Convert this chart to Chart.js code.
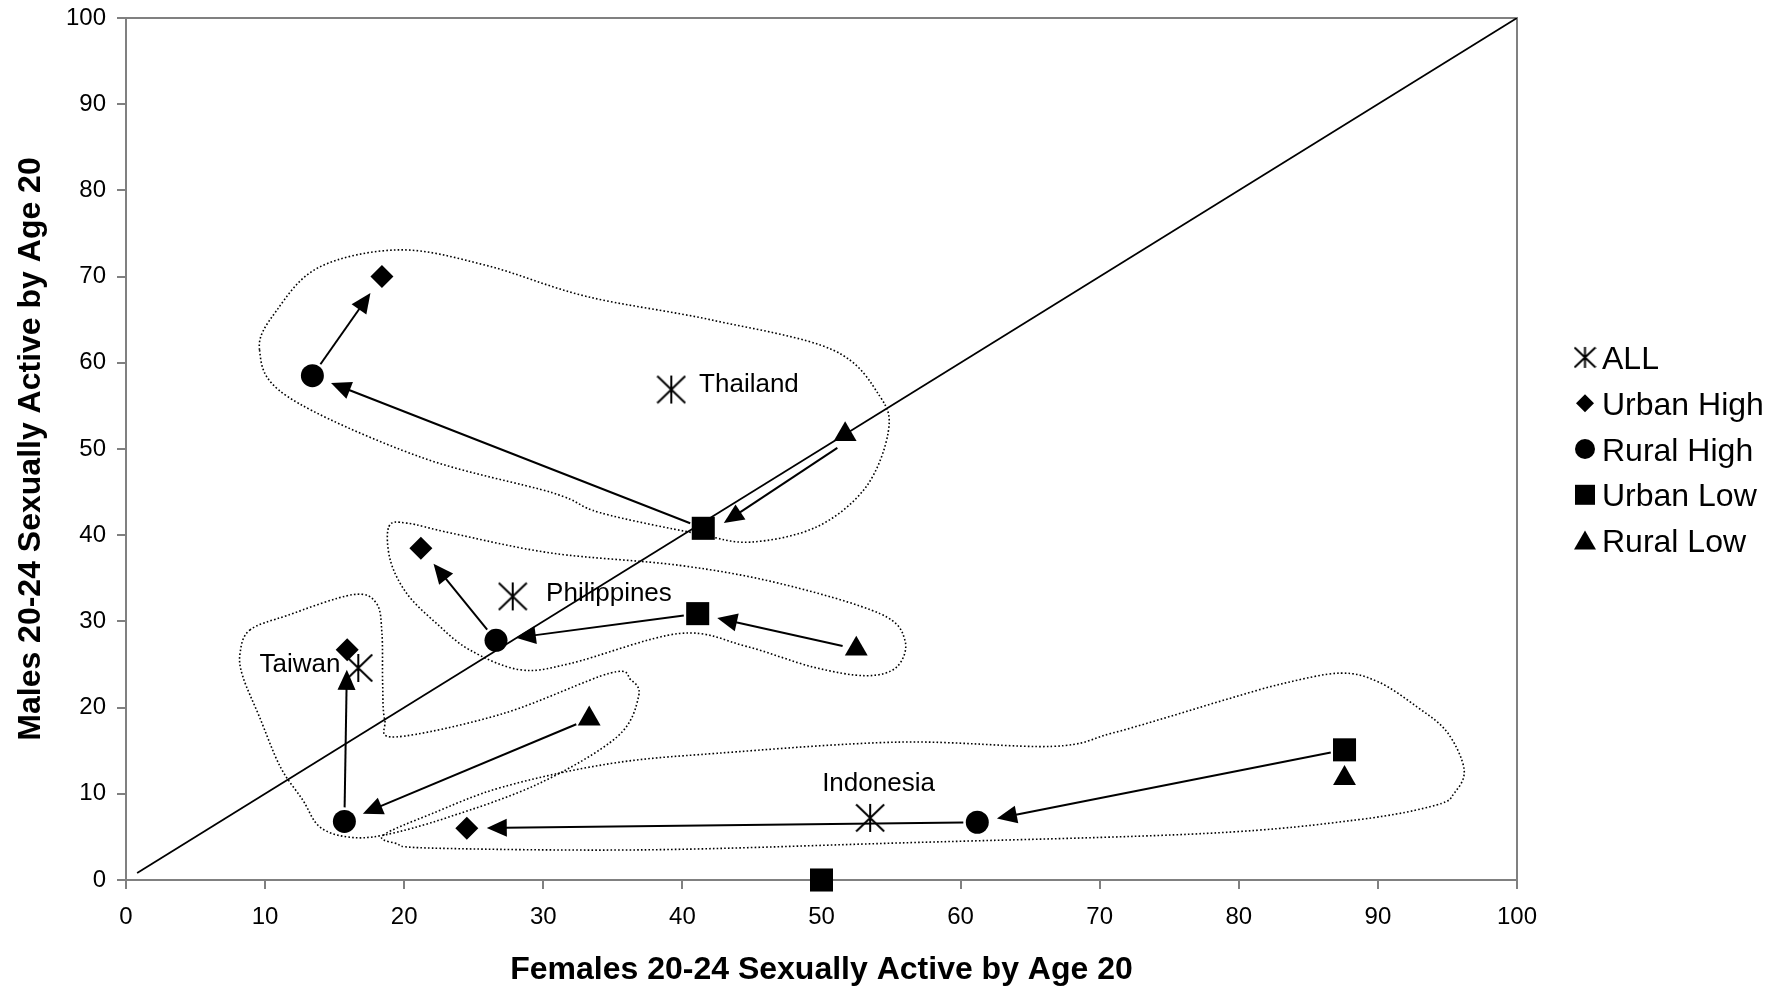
<!DOCTYPE html>
<html>
<head>
<meta charset="utf-8">
<title>Sexually active by age 20</title>
<script src="https://cdn.jsdelivr.net/npm/chart.js@4.4.1/dist/chart.umd.min.js"></script>
<style>
  html, body { margin: 0; padding: 0; background: #fff; }
  canvas { display: block; }
</style>
</head>
<body>
<canvas id="chart" width="1784" height="986"></canvas>
<script>
const countries = ['Thailand', 'Philippines', 'Taiwan', 'Indonesia'];

// one value per country, same order as above
const allX = [39.2, 27.8, 16.7, 53.5];
const allY = [56.9, 32.9, 24.6, 7.2];
const urbanHighX = [18.4, 21.2, 15.9, 24.5];
const urbanHighY = [70.0, 38.5, 26.7, 6.0];
const ruralHighX = [13.4, 26.6, 15.7, 61.2];
const ruralHighY = [58.5, 27.8, 6.8, 6.7];
const urbanLowX = [41.5, 41.1, 50.0, 87.6];
const urbanLowY = [40.8, 30.9, 0.0, 15.1];
const ruralLowX = [51.7, 52.5, 33.3, 87.6];
const ruralLowY = [51.7, 26.8, 18.7, 11.8];

const seriesNames = ['ALL', 'Urban High', 'Rural High', 'Urban Low', 'Rural Low'];
const tickValues = [0, 10, 20, 30, 40, 50, 60, 70, 80, 90, 100];

// equality line
const diagonalX = [0.8, 100];
const diagonalY = [0.8, 100];

// where the country names sit (data units)
const labelX = [41.2, 30.2, 9.6, 54.1];
const labelY = [57.7, 33.4, 25.2, 11.4];

// arrows: country, from series, to series
const arrows = [
  ['Thailand', 'Urban Low', 'Rural High'],
  ['Thailand', 'Rural High', 'Urban High'],
  ['Thailand', 'Rural Low', 'Urban Low'],
  ['Philippines', 'Rural Low', 'Urban Low'],
  ['Philippines', 'Urban Low', 'Rural High'],
  ['Philippines', 'Rural High', 'Urban High'],
  ['Taiwan', 'Rural Low', 'Rural High'],
  ['Taiwan', 'Rural High', 'Urban High'],
  ['Indonesia', 'Urban Low', 'Rural High'],
  ['Indonesia', 'Rural High', 'Urban High']
];

// dotted group outlines (data units, closed loops)
const thailandOutline = [[9.6, 61.5], [10.8, 66.0], [13.9, 71.1], [19.7, 73.1], [25.9, 71.3], [33.1, 67.7],
  [42.0, 65.0], [50.8, 61.5], [54.2, 56.1], [54.8, 52.0], [53.2, 45.6], [49.7, 41.0], [44.9, 39.2],
  [41.0, 40.2], [34.1, 42.6], [30.7, 44.9], [21.1, 49.1], [11.6, 56.1]];
const philippinesOutline = [[18.9, 41.0], [20.2, 41.4], [23.5, 40.2], [30.7, 37.9], [39.8, 36.5], [47.0, 34.4],
  [54.2, 30.9], [56.0, 27.8], [55.4, 24.7], [53.2, 23.7], [49.4, 24.7], [44.6, 27.1], [39.8, 28.6],
  [31.9, 25.1], [28.3, 24.4], [24.7, 26.7], [22.3, 29.8], [20.2, 33.2], [19.0, 37.1]];
const taiwanOutline = [[8.9, 29.0], [11.6, 30.7], [16.3, 33.1], [18.0, 32.1], [18.4, 28.6], [18.45, 22.8],
  [18.6, 18.6], [19.4, 16.6], [27.1, 19.3], [34.8, 24.0], [36.3, 23.2], [36.85, 21.3], [35.3, 16.6],
  [29.7, 11.2], [23.2, 7.3], [18.5, 5.2], [15.9, 5.0], [13.9, 6.2], [12.7, 9.3], [11.1, 13.1],
  [9.6, 18.9], [8.4, 23.6], [8.2, 26.3]];
const indonesiaOutline = [[18.5, 5.2], [22.0, 7.7], [27.1, 10.8], [34.8, 13.5], [42.5, 14.7], [55.6, 16.0],
  [66.6, 15.5], [70.8, 17.0], [74.9, 18.9], [79.0, 20.9], [83.2, 22.8], [87.3, 24.0], [90.0, 23.0],
  [92.8, 20.1], [95.0, 17.1], [96.2, 12.8], [95.5, 10.1], [94.2, 8.7], [88.6, 7.0], [77.6, 5.4],
  [55.6, 4.3], [37.4, 3.5], [22.0, 3.7], [19.4, 4.25]];
const outlines = [thailandOutline, philippinesOutline, taiwanOutline, indonesiaOutline];

const seriesXY = {
  'ALL': [allX, allY],
  'Urban High': [urbanHighX, urbanHighY],
  'Rural High': [ruralHighX, ruralHighY],
  'Urban Low': [urbanLowX, urbanLowY],
  'Rural Low': [ruralLowX, ruralLowY]
};

const FONT = '"Liberation Sans", Arial, sans-serif';

function asteriskCanvas(size, lw) {
  const c = document.createElement('canvas');
  c.width = size;
  c.height = size;
  const g = c.getContext('2d');
  g.strokeStyle = '#000';
  g.lineWidth = lw;
  const m = size / 2, e = 1;
  g.beginPath();
  g.moveTo(m, e); g.lineTo(m, size - e);
  g.moveTo(e, e + 0.5); g.lineTo(size - e, size - e - 0.5);
  g.moveTo(size - e, e + 0.5); g.lineTo(e, size - e - 0.5);
  g.stroke();
  return c;
}

const starBig = asteriskCanvas(30, 2);
const starSmall = asteriskCanvas(23, 2);

const markerStyle = {
  'ALL': { style: starBig, radius: 15 },
  'Urban High': { style: 'rectRot', radius: 11.5 },
  'Rural High': { style: 'circle', radius: 11.5 },
  'Urban Low': { style: 'rect', radius: 16.3 },
  'Rural Low': { style: 'triangle', radius: 13.2 }
};

function points(xs, ys) {
  return xs.map((x, i) => ({ x: x, y: ys[i] }));
}

const datasets = seriesNames.map(name => ({
  label: name,
  data: points(seriesXY[name][0], seriesXY[name][1]),
  pointStyle: markerStyle[name].style,
  pointRadius: markerStyle[name].radius,
  pointBackgroundColor: '#000',
  pointBorderColor: '#000',
  pointBorderWidth: 0,
  clip: false,
  order: 1
}));

datasets.push({
  label: 'diagonal',
  data: points(diagonalX, diagonalY),
  showLine: true,
  borderColor: '#000',
  borderWidth: 1.8,
  pointRadius: 0,
  order: 10
});

// closed smooth curve through the points (Catmull-Rom)
function drawLoop(ctx, pts) {
  const n = pts.length;
  ctx.beginPath();
  ctx.moveTo(pts[0][0], pts[0][1]);
  for (let i = 0; i < n; i++) {
    const p0 = pts[(i - 1 + n) % n], p1 = pts[i], p2 = pts[(i + 1) % n], p3 = pts[(i + 2) % n];
    ctx.bezierCurveTo(
      p1[0] + (p2[0] - p0[0]) / 6, p1[1] + (p2[1] - p0[1]) / 6,
      p2[0] - (p3[0] - p1[0]) / 6, p2[1] - (p3[1] - p1[1]) / 6,
      p2[0], p2[1]);
  }
  ctx.closePath();
  ctx.stroke();
}

function drawArrow(ctx, x1, y1, x2, y2, shift) {
  const startGap = 14, endGap = 20, headLen = 20, headW = 9;
  const dx = x2 - x1, dy = y2 - y1;
  const len = Math.hypot(dx, dy);
  const ux = dx / len, uy = dy / len;
  const px = -uy * shift, py = ux * shift;
  const sx = x1 + ux * startGap + px, sy = y1 + uy * startGap + py;
  const tx = x2 - ux * endGap + px, ty = y2 - uy * endGap + py;
  const bx = tx - ux * headLen, by = ty - uy * headLen;
  ctx.beginPath();
  ctx.moveTo(sx, sy);
  ctx.lineTo(bx + ux * 2, by + uy * 2);
  ctx.stroke();
  ctx.beginPath();
  ctx.moveTo(tx, ty);
  ctx.lineTo(bx - uy * headW, by + ux * headW);
  ctx.lineTo(bx + uy * headW, by - ux * headW);
  ctx.closePath();
  ctx.fill();
}

function legendMarker(ctx, name, x, y) {
  ctx.fillStyle = '#000';
  if (name === 'ALL') {
    ctx.drawImage(starSmall, x - 11.5, y - 11.5);
    return;
  }
  ctx.beginPath();
  if (name === 'Urban High') {
    ctx.moveTo(x, y - 9); ctx.lineTo(x + 9, y); ctx.lineTo(x, y + 9); ctx.lineTo(x - 9, y);
  } else if (name === 'Rural High') {
    ctx.arc(x, y, 10, 0, Math.PI * 2);
  } else if (name === 'Urban Low') {
    ctx.rect(x - 10, y - 10, 20, 20);
  } else {
    const r = 12.7;
    ctx.moveTo(x, y - r * 0.8);
    ctx.lineTo(x + r * 0.866, y + r * 0.7);
    ctx.lineTo(x - r * 0.866, y + r * 0.7);
  }
  ctx.closePath();
  ctx.fill();
}

const decor = {
  id: 'decor',
  beforeDatasetsDraw(chart) {
    const { ctx, chartArea: a, scales: { x, y } } = chart;
    ctx.save();
    // top and right edge of the plot box
    ctx.strokeStyle = '#808080';
    ctx.lineWidth = 2;
    ctx.beginPath();
    ctx.moveTo(a.left, a.top);
    ctx.lineTo(a.right, a.top);
    ctx.lineTo(a.right, a.bottom);
    ctx.stroke();

    // dotted group outlines
    ctx.strokeStyle = '#000';
    ctx.lineWidth = 1.6;
    ctx.setLineDash([1.6, 2.2]);
    outlines.forEach(o => {
      drawLoop(ctx, o.map(p => [x.getPixelForValue(p[0]), y.getPixelForValue(p[1])]));
    });
    ctx.setLineDash([]);

    // arrows between groups
    ctx.strokeStyle = '#000';
    ctx.fillStyle = '#000';
    ctx.lineWidth = 2;
    arrows.forEach(([country, from, to]) => {
      const i = countries.indexOf(country);
      const x1 = x.getPixelForValue(seriesXY[from][0][i]);
      const y1 = y.getPixelForValue(seriesXY[from][1][i]);
      const x2 = x.getPixelForValue(seriesXY[to][0][i]);
      const y2 = y.getPixelForValue(seriesXY[to][1][i]);
      const shift = (country === 'Thailand' && from === 'Rural Low') ? -7 : 0;
      drawArrow(ctx, x1, y1, x2, y2, shift);
    });
    ctx.restore();
  },
  afterDatasetsDraw(chart) {
    const { ctx, scales: { x, y } } = chart;
    ctx.save();
    ctx.fillStyle = '#000';
    ctx.font = '26px ' + FONT;
    ctx.textBaseline = 'alphabetic';
    countries.forEach((c, i) => {
      ctx.textAlign = c === 'Indonesia' ? 'center' : 'left';
      ctx.fillText(c, x.getPixelForValue(labelX[i]), y.getPixelForValue(labelY[i]) + 9.3);
    });
    ctx.restore();
  },
  afterDraw(chart) {
    const { ctx, chartArea: a } = chart;
    ctx.save();
    const gap = 45.8;
    const y0 = (a.top + a.bottom) / 2 - gap * (seriesNames.length - 1) / 2;
    ctx.font = '32px ' + FONT;
    ctx.textAlign = 'left';
    ctx.textBaseline = 'alphabetic';
    seriesNames.forEach((name, i) => {
      const yy = y0 + i * gap;
      legendMarker(ctx, name, 1585, yy);
      ctx.fillStyle = '#000';
      ctx.fillText(name, 1602, yy + 11.5);
    });
    ctx.restore();
  }
};

function axis(titleText, isX) {
  return {
    type: 'linear',
    min: 0,
    max: 100,
    afterBuildTicks(scale) {
      scale.ticks = tickValues.map(v => ({ value: v }));
    },
    afterFit(scale) {
      if (isX) {
        scale.height = 106;
        scale.paddingLeft = 0;
        scale.paddingRight = 0;
      } else {
        scale.width = 126;
        scale.paddingTop = 0;
        scale.paddingBottom = 0;
      }
    },
    ticks: {
      color: '#000',
      font: { family: FONT, size: 24 },
      padding: isX ? 14 : 11,
      maxRotation: 0,
      autoSkip: false
    },
    grid: {
      drawOnChartArea: false,
      drawTicks: true,
      tickLength: 9,
      color: '#808080',
      lineWidth: 2
    },
    border: { display: true, color: '#808080', width: 2 },
    title: {
      display: true,
      text: titleText,
      color: '#000',
      font: { family: FONT, size: 32, weight: 'bold', lineHeight: 1 },
      padding: isX ? { top: 0, bottom: 0 } : { top: 15, bottom: 0 }
    }
  };
}

new Chart(document.getElementById('chart'), {
  type: 'scatter',
  data: { datasets: datasets },
  options: {
    responsive: false,
    animation: false,
    events: [],
    layout: { padding: { top: 18, right: 267, bottom: 0, left: 0 } },
    plugins: {
      legend: { display: false },
      tooltip: { enabled: false }
    },
    scales: {
      x: axis('Females 20-24 Sexually Active by Age 20', true),
      y: axis('Males 20-24 Sexually Active by Age 20', false)
    }
  },
  plugins: [decor]
});
</script>
</body>
</html>
